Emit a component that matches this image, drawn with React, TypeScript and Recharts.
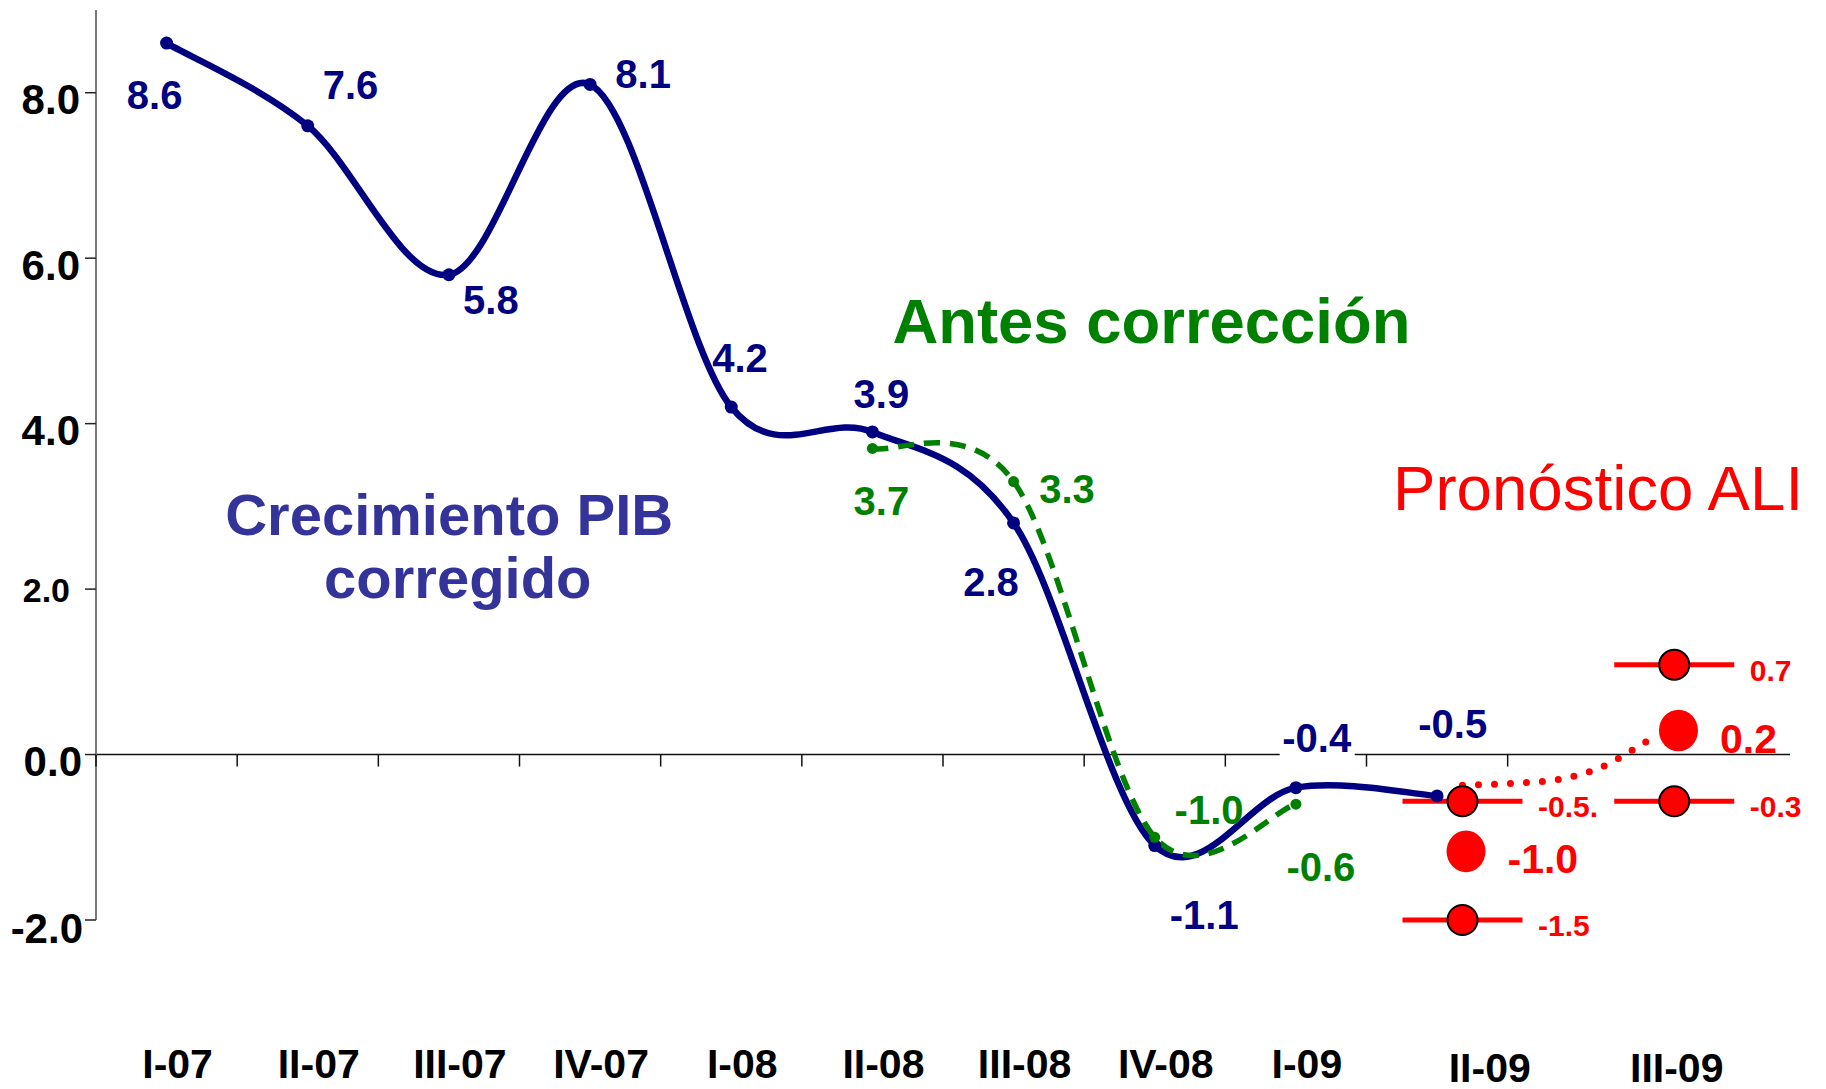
import React from 'react';
import { ComposedChart, Line, Scatter, XAxis, YAxis, ReferenceLine, Customized } from 'recharts';

const FONT = "'Liberation Sans', Arial, Helvetica, sans-serif";

// ---------- data ----------
const categories = ['I-07', 'II-07', 'III-07', 'IV-07', 'I-08', 'II-08', 'III-08', 'IV-08', 'I-09', 'II-09', 'III-09', 'IV-09'];
const pibCorregido = [8.6, 7.6, 5.8, 8.1, 4.2, 3.9, 2.8, -1.1, -0.4, -0.5];
const pibAntesCorreccion: (number | null)[] = [null, null, null, null, null, 3.7, 3.3, -1.0, -0.6];
const yTicks = [-2, 0, 2, 4, 6, 8];
const xLabelText = ['I-07', 'II-07', 'III-07', 'IV-07', 'I-08', 'II-08', 'III-08', 'IV-08', 'I-09', 'II-09', 'III-09'];
const xLabelPos = [0, 1, 2, 3, 4, 5, 6, 7, 8, 9.295, 10.62];
const boundaryTicks = [-0.5, 0.5, 1.5, 2.5, 3.5, 4.5, 5.5, 6.5, 7.5, 8.5, 9.5];

// ALI forecast (as drawn on the picture)
const forecastRange = [
  { x: 9.18, y: -0.565, label: '-0.5.' },
  { x: 9.18, y: -2.0, label: '-1.5' },
  { x: 10.68, y: 1.085, label: '0.7' },
  { x: 10.68, y: -0.565, label: '-0.3' },
];
const forecastCentral = [
  { x: 9.205, y: -1.17, label: '-1.0' },
  { x: 10.71, y: 0.29, label: '0.2' },
];
const forecastPath = [
  { x: 9.18, y: -0.37 },
  { x: 9.52, y: -0.35 },
  { x: 9.86, y: -0.3 },
  { x: 10.18, y: -0.14 },
  { x: 10.38, y: 0.05 },
  { x: 10.57, y: 0.25 },
];

// ---------- label placement (style) ----------
const blueLabelOffsets = [
  [-12, 65.5], [42.8, -27.2], [42, 39], [53, 3.2], [8.7, -35],
  [9, -23.8], [-22.6, 72.6], [49.5, 83], [20.8, -35.4], [15.6, -58.4],
];
const blueLabelBoxed = [false, false, false, false, false, false, false, false, true, false];
const greenLabelOffsets: Record<number, number[]> = {
  5: [9, 66.3],
  6: [53.4, 21.6],
  7: [54.3, -13.4],
  8: [25, 76.4],
};
const yTickStyle: Record<number, { size: number; dx: number; dy: number }> = {
  8: { size: 42, dx: 0, dy: 21.7 },
  6: { size: 42, dx: 0, dy: 21.7 },
  4: { size: 42, dx: 0, dy: 21.7 },
  2: { size: 34, dx: -10, dy: 13.3 },
  0: { size: 42, dx: 2, dy: 21.7 },
  [-2]: { size: 42, dx: 3, dy: 23 },
};

const NAVY = '#000080';
const GREEN = '#008000';
const RED = '#FF0000';

const blueData = pibCorregido.map((y, i) => ({ x: i, y, cat: categories[i] }));
const greenData = pibAntesCorreccion
  .map((y, i) => ({ x: i, y, cat: categories[i] }))
  .filter((d) => d.y !== null) as { x: number; y: number; cat: string }[];
const boundaryData = boundaryTicks.map((x) => ({ x, y: 0 }));

// Excel-like smoothed line (Catmull-Rom through the points)
function excelCurve(context: any) {
  let pts: [number, number][] = [];
  return {
    areaStart() {},
    areaEnd() {},
    lineStart() {
      pts = [];
    },
    lineEnd() {
      const n = pts.length;
      if (n === 0) return;
      context.moveTo(pts[0][0], pts[0][1]);
      for (let i = 0; i < n - 1; i++) {
        const p0 = pts[Math.max(0, i - 1)];
        const p1 = pts[i];
        const p2 = pts[i + 1];
        const p3 = pts[Math.min(n - 1, i + 2)];
        context.bezierCurveTo(
          p1[0] + (p2[0] - p0[0]) / 6,
          p1[1] + (p2[1] - p0[1]) / 6,
          p2[0] - (p3[0] - p1[0]) / 6,
          p2[1] - (p3[1] - p1[1]) / 6,
          p2[0],
          p2[1]
        );
      }
    },
    point(x: number, y: number) {
      pts.push([+x, +y]);
    },
  };
}

const YTick = (props: any) => {
  const { x, y, payload } = props;
  const st = yTickStyle[payload.value] || { size: 42, dx: 0, dy: 21.7 };
  return (
    <text x={x + st.dx} y={y + st.dy} textAnchor="end" fontFamily={FONT} fontWeight="bold" fontSize={st.size} fill="#000">
      {payload.value.toFixed(1)}
    </text>
  );
};

const XTick = (props: any) => {
  const { x, y, index } = props;
  const overlay = index >= 9;
  return (
    <text x={x + 11} y={y + (overlay ? 161.5 : 158.3)} textAnchor="middle" fontFamily={FONT} fontWeight="bold" fontSize={41} fill="#000">
      {xLabelText[index]}
    </text>
  );
};

const BoundaryTick = (props: any) => {
  const { cx, cy } = props;
  return <line x1={cx} x2={cx} y1={cy} y2={cy + 12} stroke="#111" strokeWidth={1.5} />;
};

const BlueLabel = (props: any) => {
  const { cx, cy, payload } = props;
  const i = payload.x;
  const [dx, dy] = blueLabelOffsets[i];
  return (
    <g>
      {blueLabelBoxed[i] && <rect x={cx + dx - 37} y={cy + dy - 37} width={75} height={43} fill="#fff" />}
      <text x={cx + dx} y={cy + dy} textAnchor="middle" fontFamily={FONT} fontWeight="bold" fontSize={40} fill={NAVY}>
        {payload.y.toFixed(1)}
      </text>
    </g>
  );
};

const GreenLabel = (props: any) => {
  const { cx, cy, payload } = props;
  const [dx, dy] = greenLabelOffsets[payload.x];
  return (
    <text x={cx + dx} y={cy + dy} textAnchor="middle" fontFamily={FONT} fontWeight="bold" fontSize={40} fill={GREEN}>
      {payload.y.toFixed(1)}
    </text>
  );
};

const RangeShape = (props: any) => {
  const { cx, cy, payload } = props;
  return (
    <g>
      <line x1={cx - 60} x2={cx + 60} y1={cy} y2={cy} stroke={RED} strokeWidth={5} />
      <circle cx={cx} cy={cy} r={15} fill={RED} stroke="#000" strokeWidth={2} />
      <text x={cx + 75.5} y={cy + 16} fontFamily={FONT} fontWeight="bold" fontSize={30} fill={RED}>
        {payload.label}
      </text>
    </g>
  );
};

const CentralShape = (props: any) => {
  const { cx, cy, payload } = props;
  return (
    <g>
      <ellipse cx={cx} cy={cy} rx={19.5} ry={20.8} fill={RED} />
      <text x={cx + 41.5} y={cy + 22} fontFamily={FONT} fontWeight="bold" fontSize={41} fill={RED}>
        {payload.label}
      </text>
    </g>
  );
};

const Annotations = () => (
  <g fontFamily={FONT}>
    <text x={449.2} y={535} textAnchor="middle" fontWeight="bold" fontSize={58} fill="#333399">
      Crecimiento PIB
    </text>
    <text x={457.8} y={598.3} textAnchor="middle" fontWeight="bold" fontSize={58} fill="#333399">
      corregido
    </text>
    <text x={892.5} y={342.7} fontWeight="bold" fontSize={63.4} fill={GREEN}>
      Antes corrección
    </text>
    <text x={1393} y={510} fontSize={63.6} fill={RED}>
      Pronóstico ALI
    </text>
  </g>
);

export default function App() {
  return (
    <div style={{ position: 'absolute', left: 0, top: 0, width: 1826, height: 1089, background: '#fff' }}>
      <ComposedChart width={1826} height={1089} margin={{ top: 10, right: 36, left: 0, bottom: 0 }}>
        <XAxis
          type="number"
          dataKey="x"
          domain={[-0.5, 11.5]}
          ticks={xLabelPos}
          interval={0}
          axisLine={false}
          tickLine={false}
          tickSize={0}
          tickMargin={0}
          height={169}
          tick={<XTick />}
        />
        <YAxis
          type="number"
          domain={[-2, 9]}
          ticks={yTicks}
          interval={0}
          width={96}
          tickSize={11}
          tickMargin={5}
          axisLine={{ stroke: '#7a7a7a', strokeWidth: 2 }}
          tickLine={{ stroke: '#222', strokeWidth: 1.5 }}
          tick={<YTick />}
        />
        <ReferenceLine y={0} stroke="#111" strokeWidth={1.5} />
        <Scatter data={boundaryData} dataKey="y" shape={<BoundaryTick />} isAnimationActive={false} />
        <Scatter data={forecastRange} dataKey="y" shape={<RangeShape />} isAnimationActive={false} />
        <Scatter data={forecastCentral} dataKey="y" shape={<CentralShape />} isAnimationActive={false} />
        <Line
          data={blueData}
          dataKey="y"
          type={excelCurve as any}
          stroke={NAVY}
          strokeWidth={6.5}
          dot={{ r: 6.5, fill: NAVY, stroke: 'none' }}
          activeDot={false}
          isAnimationActive={false}
        />
        <Line
          data={greenData}
          dataKey="y"
          type={excelCurve as any}
          stroke={GREEN}
          strokeWidth={5.5}
          strokeDasharray="16 10"
          dot={{ r: 5.5, fill: GREEN, stroke: 'none' }}
          activeDot={false}
          isAnimationActive={false}
        />
        <Line
          data={forecastPath}
          dataKey="y"
          type="monotone"
          stroke={RED}
          strokeWidth={7}
          strokeDasharray="0 16"
          strokeLinecap="round"
          dot={false}
          activeDot={false}
          isAnimationActive={false}
        />
        <Scatter data={blueData} dataKey="y" shape={<BlueLabel />} isAnimationActive={false} />
        <Scatter data={greenData} dataKey="y" shape={<GreenLabel />} isAnimationActive={false} />
        <Customized component={Annotations} />
      </ComposedChart>
    </div>
  );
}
